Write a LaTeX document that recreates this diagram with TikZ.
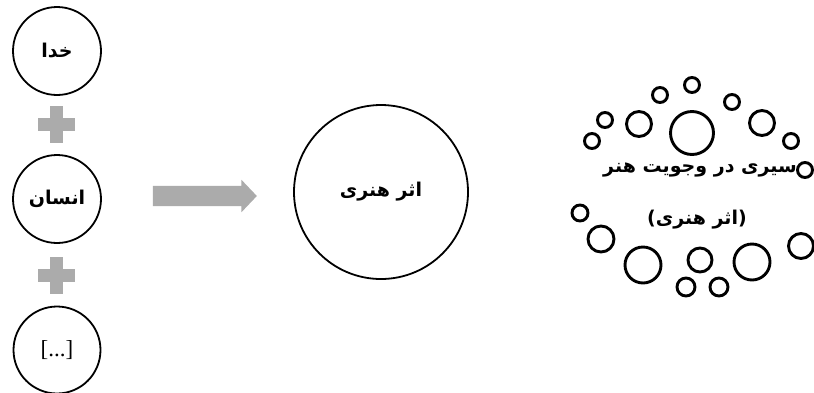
\documentclass[tikz,border=0pt]{standalone}
\usepackage{fontspec}
\newfontfamily\arabicfont[Script=Arabic]{DejaVu Sans}
\newfontfamily\latinfont{Liberation Serif}
\TeXXeTstate=1
\usetikzlibrary{shapes.arrows}
\definecolor{pgray}{HTML}{ABABAB}
\begin{document}
\begin{tikzpicture}[x=1pt,y=-1pt,
  bigc/.style={circle,draw,line width=1.8pt,inner sep=0pt},
  dotc/.style={circle,draw,line width=2.9pt,inner sep=0pt},
  fa/.style={font=\arabicfont\bfseries\fontsize{19}{22}\selectfont},
  plusfill/.style={fill=pgray}]
\useasboundingbox (0,0) rectangle (814,392);
% left column
\node[bigc,minimum size=88pt,fa] (khoda) at (57,51) {\beginR خدا\endR};
\node[bigc,minimum size=88pt,fa] (ensan) at (57,199) {\beginR انسان\endR};
\node[bigc,minimum size=87pt,font=\latinfont\fontsize{23}{26}\selectfont] (etc) at (57,350) {[...]};
\coordinate (p1) at (56,124);
\coordinate (p2) at (56,275);
\foreach \p in {p1,p2}{
  \fill[plusfill] (\p) +(-18.5,-6.5) rectangle +(18.5,6.5);
  \fill[plusfill] (\p) +(-6.5,-18.5) rectangle +(6.5,18.5);
}
% arrow
\node[single arrow,plusfill,minimum height=104pt,inner xsep=0pt,inner ysep=10pt,
  single arrow head extend=6pt,single arrow tip angle=93] (arr) at (200,196) {};
% central circle
\node[bigc,minimum size=174pt,fa] (athar) at (381,192) {\beginR اثر هنری\endR};
% right cluster
\foreach \n/\x/\y/\r in {
  c1/692/85/7.5, c2/660/95/7.5, c3/732/102/7.5, c4/605/120/7.5,
  c5/639/124/12.5, c6/692/133/21.5, c7/762/123/12.5, c8/592/141/7.5,
  c9/791/141/7.5, c10/805/170/7.5,
  c11/580/213/8, c12/601/239/13, c13/643/265/18, c14/700/260/12,
  c15/686/287/9, c16/719/287/9, c17/752/262/18, c18/801/246/12.5}{
  \node[dotc,minimum size=2*\r pt] (\n) at (\x,\y) {};
}
\node[fa] (t1) at (700,170) {\beginR سیری در وجویت هنر\endR};
\node[fa] (t2) at (697,220) {\beginR (اثر هنری)\endR};
\end{tikzpicture}
\end{document}
